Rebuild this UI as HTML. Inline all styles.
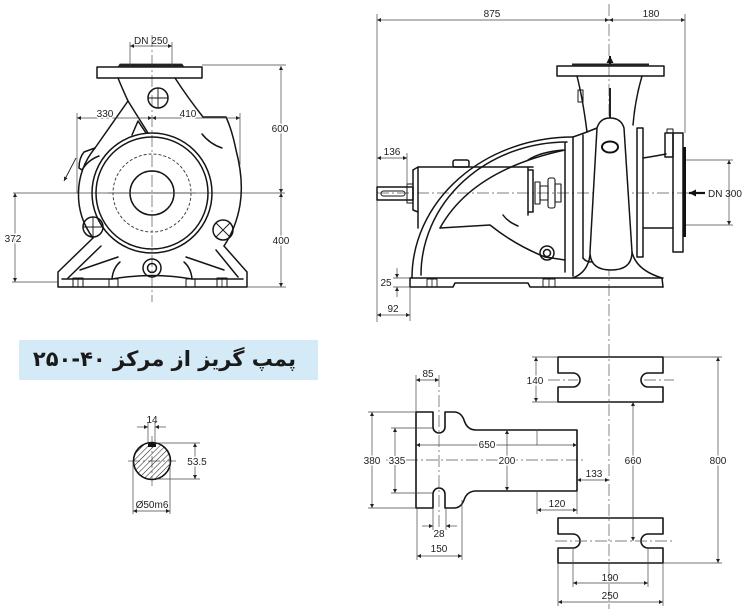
<!DOCTYPE html>
<html><head><meta charset="utf-8">
<style>
html,body{margin:0;padding:0;background:#fff;}
#wrap{position:relative;width:750px;height:609px;overflow:hidden;background:#fff;}
svg{position:absolute;left:0;top:0;}
.k{stroke:#151515;stroke-width:1.5;fill:none;stroke-linejoin:round;stroke-linecap:round;}
.kf{stroke:#151515;stroke-width:1.5;fill:#fff;stroke-linejoin:round;}
.d{stroke:#444;stroke-width:0.7;fill:none;}
.c{stroke:#555;stroke-width:0.7;fill:none;stroke-dasharray:12 3 2 3;}
.t{font-family:"Liberation Sans",Arial,sans-serif;font-size:10px;fill:#222;text-anchor:middle;}
.tw{font-family:"Liberation Sans",Arial,sans-serif;font-size:10px;fill:#222;text-anchor:middle;stroke:#fff;stroke-width:3px;paint-order:stroke;}
#banner{position:absolute;left:19px;top:340px;width:299px;height:40px;background:#d5eaf7;}
#btxt{position:absolute;left:19px;top:340px;width:277px;height:40px;line-height:38px;direction:rtl;text-align:right;font-family:"DejaVu Sans",sans-serif;font-weight:bold;font-size:21px;color:#1a1a1a;white-space:nowrap;}
</style></head>
<body><div id="wrap">
<div id="banner"></div>
<div id="btxt">پمپ گریز از مرکز ۴۰-۲۵۰</div>
<svg width="750" height="609" viewBox="0 0 750 609" xmlns="http://www.w3.org/2000/svg">
<defs>
<marker id="ar" viewBox="0 0 10 10" refX="10" refY="5" markerWidth="6" markerHeight="4" orient="auto-start-reverse" markerUnits="userSpaceOnUse"><path d="M0,0 L10,5 L0,10 z" fill="#222"/></marker>
<marker id="ab" viewBox="0 0 10 10" refX="10" refY="5" markerWidth="8" markerHeight="7" orient="auto-start-reverse" markerUnits="userSpaceOnUse"><path d="M0,0 L10,5 L0,10 z" fill="#111"/></marker>
<pattern id="hatch" width="4" height="4" patternUnits="userSpaceOnUse" patternTransform="rotate(45)"><line x1="0" y1="0" x2="0" y2="4" stroke="#222" stroke-width="1.1"/></pattern>
</defs>

<!-- ================= LEFT PUMP (front view) ================= -->
<line class="c" x1="152" y1="35" x2="152" y2="302"/>
<line class="d" x1="13" y1="193" x2="285" y2="193"/>
<rect class="k" x="97" y="67" width="105" height="11"/>
<path d="M118,67 L120,64 L182,64 L184,67 Z" fill="#222" stroke="#222" stroke-width="0.8"/>
<path class="k" d="M118,78 Q122,88 128,101 L95,148"/>
<path class="k" d="M128,101 Q138,117 148,133"/>
<path class="k" d="M132,135 L138,121 L146,133"/>
<path class="k" d="M95,148 L84,152 Q79,158 79,168 L82,170 Q88,160 99,156"/>
<path class="k" d="M175,78 Q188,98 203,117 L226,117 Q232,130 236,150 Q244,180 240,205 Q236,228 224,246"/>
<path class="k" d="M202,134 Q210,144 222,148"/>
<path class="k" d="M95,148 A73,73 0 0 0 93,238"/>
<circle class="k" cx="152" cy="193" r="60"/>
<circle class="k" cx="152" cy="193" r="56"/>
<circle cx="152" cy="193" r="39" fill="none" stroke="#333" stroke-width="0.9" stroke-dasharray="3 2"/>
<circle class="k" cx="152" cy="193" r="22"/>
<line class="d" x1="108" y1="193" x2="196" y2="193"/>
<circle class="k" cx="158" cy="98" r="10"/>
<line class="k" x1="148" y1="98" x2="168" y2="98" style="stroke-width:0.9"/>
<line class="k" x1="158" y1="88" x2="158" y2="108" style="stroke-width:0.9"/>
<circle class="k" cx="93" cy="227" r="10"/>
<line class="k" x1="83" y1="227" x2="103" y2="227" style="stroke-width:0.9"/>
<line class="k" x1="93" y1="217" x2="93" y2="237" style="stroke-width:0.9"/>
<circle class="k" cx="223" cy="230" r="10"/>
<line class="k" x1="216" y1="223" x2="230" y2="237" style="stroke-width:0.9"/>
<line class="k" x1="230" y1="223" x2="216" y2="237" style="stroke-width:0.9"/>
<circle class="k" cx="152" cy="268" r="9"/>
<circle class="k" cx="152" cy="268" r="4.5"/>
<path class="k" d="M93,238 L58,272 L58,287 L247,287 L247,272 L224,246"/>
<path class="k" d="M101,246 L68,278"/>
<path class="k" d="M216,250 L238,277"/>
<path class="k" d="M80,270 L118,257"/>
<path class="k" d="M224,270 L186,257"/>
<path class="k" d="M62,279 L112,279 Q152,272 192,279 L243,279"/>
<path class="k" d="M120,262 Q113,268 112,279"/>
<path class="k" d="M184,262 Q191,268 192,279"/>
<rect class="k" x="73" y="278" width="10" height="9" style="stroke-width:1"/>
<line class="k" x1="78" y1="278" x2="78" y2="287" style="stroke-width:0.8"/>
<rect class="k" x="109" y="279" width="9" height="8" style="stroke-width:1"/>
<rect class="k" x="186" y="279" width="9" height="8" style="stroke-width:1"/>
<rect class="k" x="217" y="278" width="10" height="9" style="stroke-width:1"/>
<line class="k" x1="222" y1="278" x2="222" y2="287" style="stroke-width:0.8"/>
<path class="d" d="M76,158 L64,181" marker-end="url(#ar)" style="stroke:#222;stroke-width:0.9"/>
<line class="d" x1="130" y1="42" x2="130" y2="66"/>
<line class="d" x1="172" y1="42" x2="172" y2="66"/>
<line class="d" x1="130" y1="46" x2="172" y2="46" marker-start="url(#ar)" marker-end="url(#ar)"/>
<text class="t" x="151" y="44">DN 250</text>
<line class="d" x1="77" y1="113" x2="77" y2="193"/>
<line class="d" x1="240" y1="113" x2="240" y2="165"/>
<line class="d" x1="77" y1="118" x2="152" y2="118" marker-start="url(#ar)" marker-end="url(#ar)"/>
<line class="d" x1="152" y1="118" x2="240" y2="118" marker-start="url(#ar)" marker-end="url(#ar)"/>
<text class="tw" x="105" y="117">330</text>
<text class="tw" x="188" y="117">410</text>
<line class="d" x1="202" y1="65" x2="286" y2="65"/>
<line class="d" x1="247" y1="287" x2="286" y2="287"/>
<line class="d" x1="281" y1="66" x2="281" y2="193" marker-start="url(#ar)" marker-end="url(#ar)"/>
<line class="d" x1="281" y1="193" x2="281" y2="287" marker-start="url(#ar)" marker-end="url(#ar)"/>
<text class="tw" x="280" y="132">600</text>
<text class="tw" x="281" y="244">400</text>
<line class="d" x1="12" y1="282" x2="58" y2="282"/>
<line class="d" x1="15" y1="193" x2="15" y2="282" marker-start="url(#ar)" marker-end="url(#ar)"/>
<text class="tw" x="13" y="242">372</text>

<!-- ================= RIGHT PUMP (side view) ================= -->
<line class="c" x1="609" y1="4" x2="609" y2="609"/>
<line class="c" x1="377" y1="193" x2="692" y2="193"/>
<line class="d" x1="377" y1="14" x2="377" y2="322"/>
<line class="d" x1="685" y1="14" x2="685" y2="133"/>
<line class="d" x1="377" y1="20" x2="609" y2="20" marker-start="url(#ar)" marker-end="url(#ar)"/>
<line class="d" x1="609" y1="20" x2="685" y2="20" marker-start="url(#ar)" marker-end="url(#ar)"/>
<text class="t" x="492" y="17">875</text>
<text class="t" x="651" y="17">180</text>
<rect class="k" x="557" y="66" width="107" height="10"/>
<rect x="572" y="63.5" width="77" height="2.5" fill="#222"/>
<line x1="610" y1="64" x2="610" y2="56" stroke="#111" stroke-width="2" marker-end="url(#ab)"/>
<path class="k" d="M577,76 Q583,100 587,132"/>
<path class="k" d="M642,76 Q635,100 633,125"/>
<rect class="k" x="578" y="90" width="5" height="12" style="stroke-width:1"/>
<line x1="610" y1="88" x2="610" y2="120" stroke="#222" stroke-width="2"/>
<rect x="604" y="118" width="12" height="4" fill="#222"/>
<path class="k" d="M573,137 Q585,133 597,128"/>
<line class="k" x1="573" y1="137" x2="573" y2="276"/>
<line class="k" x1="565" y1="143" x2="565" y2="272"/>
<line class="k" x1="583" y1="135" x2="583" y2="258"/>
<path class="k" d="M583,258 Q586,262 591,262"/>
<path class="kf" d="M597,128 Q600,118 610,118 Q621,118 624,128 L632,252 Q632,270 611,270 Q590,270 590,252 Z"/>
<ellipse cx="610" cy="147" rx="8" ry="5.5" fill="none" stroke="#111" stroke-width="2"/>
<rect class="k" x="637" y="128" width="6" height="129"/>
<path class="k" d="M643,158 Q656,156 666,154"/>
<line class="k" x1="643" y1="228" x2="673" y2="228"/>
<rect class="k" x="673" y="133" width="10" height="119"/>
<rect class="k" x="665" y="133" width="8" height="24"/>
<rect class="k" x="667" y="129" width="6" height="4" style="stroke-width:1"/>
<rect x="683" y="147" width="3" height="90" fill="#111"/>
<line x1="705" y1="193" x2="689" y2="193" stroke="#111" stroke-width="2.2" marker-end="url(#ab)"/>
<text class="t" x="708" y="197" style="text-anchor:start">DN 300</text>
<line class="d" x1="686" y1="160" x2="733" y2="160"/>
<line class="d" x1="686" y1="225" x2="733" y2="225"/>
<line class="d" x1="729" y1="160" x2="729" y2="225" marker-start="url(#ar)" marker-end="url(#ar)"/>
<path class="k" d="M590,255 Q588,272 573,278"/>
<path class="k" d="M632,252 Q636,270 662,278 L663,287"/>
<path class="k" d="M410,278 L410,287 L453,287 L455,283 L528,283 L530,287 L663,287"/>
<line class="k" x1="410" y1="278" x2="663" y2="278"/>
<rect class="k" x="427" y="279" width="10" height="8" style="stroke-width:0.9"/>
<line class="k" x1="432" y1="279" x2="432" y2="287" style="stroke-width:0.8"/>
<rect class="k" x="543" y="279" width="12" height="8" style="stroke-width:0.9"/>
<line class="k" x1="549" y1="279" x2="549" y2="287" style="stroke-width:0.8"/>
<rect class="k" x="377" y="187" width="36" height="13"/>
<rect class="k" x="381" y="191" width="24" height="5" rx="2.5" style="stroke-width:1"/>
<rect class="k" x="407" y="184" width="6" height="19" style="stroke-width:1"/>
<path class="k" d="M413,170 L418,167 L533,167"/>
<path class="k" d="M413,170 L413,210 L418,212 L418,228"/>
<line class="k" x1="418" y1="167" x2="418" y2="212"/>
<rect class="k" x="453" y="160" width="16" height="7" rx="2"/>
<path class="k" d="M528,170 L533,170 L533,212 L528,212"/>
<line class="k" x1="528" y1="167" x2="528" y2="215"/>
<rect class="k" x="535" y="182" width="5" height="22" style="stroke-width:1.1"/>
<rect class="k" x="540" y="186" width="8" height="14" style="stroke-width:1.1"/>
<rect class="k" x="548" y="178" width="7" height="30" rx="2" style="stroke-width:1.1"/>
<rect class="k" x="555" y="184" width="6" height="18" style="stroke-width:1.1"/>
<path class="k" d="M412,278 A161,141 0 0 1 573,137"/>
<path class="k" d="M421,275 A146,133 0 0 1 567,142"/>
<path class="k" d="M440,228 Q472,170 565,150"/>
<path class="k" d="M528,160 Q540,152 563,150"/>
<path class="k" d="M440,228 L490,225 Q515,245 545,257 L565,260"/>
<path class="k" d="M503,215 Q508,222 518,226"/>
<circle class="k" cx="547" cy="253" r="7"/>
<circle class="k" cx="547" cy="253" r="3.5"/>
<line class="d" x1="407" y1="153" x2="407" y2="186"/>
<line class="d" x1="377" y1="158" x2="407" y2="158" marker-start="url(#ar)" marker-end="url(#ar)"/>
<text class="t" x="392" y="155">136</text>
<line class="d" x1="393" y1="278" x2="410" y2="278"/>
<line class="d" x1="393" y1="287" x2="410" y2="287"/>
<line class="d" x1="397" y1="268" x2="397" y2="278" marker-end="url(#ar)"/>
<line class="d" x1="397" y1="297" x2="397" y2="287" marker-end="url(#ar)"/>
<text class="t" x="386" y="286">25</text>
<line class="d" x1="410" y1="287" x2="410" y2="321"/>
<line class="d" x1="377" y1="315" x2="410" y2="315" marker-start="url(#ar)" marker-end="url(#ar)"/>
<text class="t" x="393" y="312">92</text>

<!-- ================= SHAFT SECTION ================= -->
<line class="c" x1="128" y1="461" x2="176" y2="461"/>
<line class="c" x1="152" y1="436" x2="152" y2="486"/>
<circle cx="152" cy="461" r="18.5" fill="url(#hatch)" stroke="#111" stroke-width="1.6"/>
<path d="M148,443 L148,447 L156,447 L156,443 Z" fill="#111"/>
<line class="d" x1="148" y1="422" x2="148" y2="444"/>
<line class="d" x1="155" y1="422" x2="155" y2="444"/>
<line class="d" x1="137" y1="427" x2="148" y2="427" marker-end="url(#ar)"/>
<line class="d" x1="166" y1="427" x2="155" y2="427" marker-end="url(#ar)"/>
<text class="t" x="152" y="423">14</text>
<line class="d" x1="156" y1="443" x2="200" y2="443"/>
<line class="d" x1="156" y1="479" x2="200" y2="479"/>
<line class="d" x1="195" y1="443" x2="195" y2="479" marker-start="url(#ar)" marker-end="url(#ar)"/>
<text class="tw" x="197" y="465">53.5</text>
<line class="d" x1="133" y1="461" x2="133" y2="514"/>
<line class="d" x1="170" y1="461" x2="170" y2="514"/>
<line class="d" x1="133" y1="511" x2="170" y2="511" marker-start="url(#ar)" marker-end="url(#ar)"/>
<text class="t" x="152" y="508">Ø50m6</text>

<!-- ================= BASE PLATE (long) ================= -->
<line class="c" x1="386" y1="460" x2="583" y2="460"/>
<path class="k" style="stroke-width:1.6" d="M416,412 L433,412 L433,427 A6,6 0 0 0 445,427 L445,412 L454,412 Q461,412 464,420 Q467,430 476,430 L577,430 L577,491 L476,491 Q467,491 464,500 Q461,508 454,508 L445,508 L445,494 A6,6 0 0 0 433,494 L433,508 L416,508 Z"/>
<line class="c" x1="439" y1="375" x2="439" y2="530"/>
<line class="d" x1="537" y1="430" x2="537" y2="445"/>
<line class="d" x1="537" y1="491" x2="537" y2="514"/>
<line class="d" x1="577" y1="491" x2="577" y2="514"/>
<line class="d" x1="416" y1="375" x2="416" y2="412"/>
<line class="d" x1="416" y1="445" x2="577" y2="445" marker-start="url(#ar)" marker-end="url(#ar)"/>
<text class="tw" x="487" y="448">650</text>
<line class="d" x1="507" y1="430" x2="507" y2="491" marker-start="url(#ar)" marker-end="url(#ar)"/>
<text class="tw" x="507" y="464">200</text>
<line class="d" x1="416" y1="380" x2="439" y2="380" marker-start="url(#ar)" marker-end="url(#ar)"/>
<text class="t" x="428" y="377">85</text>
<line class="d" x1="368" y1="412" x2="416" y2="412"/>
<line class="d" x1="368" y1="508" x2="416" y2="508"/>
<line class="d" x1="372" y1="412" x2="372" y2="508" marker-start="url(#ar)" marker-end="url(#ar)"/>
<text class="tw" x="372" y="464">380</text>
<line class="d" x1="391" y1="428" x2="433" y2="428"/>
<line class="d" x1="391" y1="493" x2="433" y2="493"/>
<line class="d" x1="395" y1="428" x2="395" y2="493" marker-start="url(#ar)" marker-end="url(#ar)"/>
<text class="tw" x="397" y="464">335</text>
<line class="d" x1="417" y1="508" x2="417" y2="560"/>
<line class="d" x1="433" y1="508" x2="433" y2="530"/>
<line class="d" x1="446" y1="508" x2="446" y2="530"/>
<line class="d" x1="462" y1="500" x2="462" y2="560"/>
<line class="d" x1="422" y1="526" x2="433" y2="526" marker-end="url(#ar)"/>
<line class="d" x1="457" y1="526" x2="446" y2="526" marker-end="url(#ar)"/>
<text class="t" x="439" y="537">28</text>
<line class="d" x1="417" y1="556" x2="462" y2="556" marker-start="url(#ar)" marker-end="url(#ar)"/>
<text class="t" x="439" y="552">150</text>
<line class="d" x1="537" y1="510" x2="577" y2="510" marker-start="url(#ar)" marker-end="url(#ar)"/>
<text class="t" x="557" y="507">120</text>
<line class="d" x1="577" y1="480" x2="609" y2="480" marker-start="url(#ar)" marker-end="url(#ar)"/>
<text class="t" x="594" y="477">133</text>

<!-- ================= SUPPORT BLOCKS ================= -->
<path class="k" style="stroke-width:1.6" d="M558,357 L663,357 L663,373 L648,373 A7,7 0 0 0 648,387 L663,387 L663,402 L558,402 L558,387 L573,387 A7,7 0 0 0 573,373 L558,373 Z"/>
<path class="k" style="stroke-width:1.6" d="M558,518 L663,518 L663,534 L648,534 A7,7 0 0 0 648,548 L663,548 L663,563 L558,563 L558,548 L573,548 A7,7 0 0 0 573,534 L558,534 Z"/>
<line class="c" x1="548" y1="380" x2="578" y2="380"/>
<line class="c" x1="644" y1="380" x2="674" y2="380"/>
<line class="c" x1="555" y1="541" x2="674" y2="541"/>
<line class="d" x1="532" y1="357" x2="558" y2="357"/>
<line class="d" x1="532" y1="402" x2="558" y2="402"/>
<line class="d" x1="536" y1="357" x2="536" y2="402" marker-start="url(#ar)" marker-end="url(#ar)"/>
<text class="tw" x="535" y="384">140</text>
<line class="d" x1="633" y1="402" x2="633" y2="541" marker-start="url(#ar)" marker-end="url(#ar)"/>
<text class="tw" x="633" y="464">660</text>
<line class="d" x1="663" y1="357" x2="722" y2="357"/>
<line class="d" x1="663" y1="563" x2="722" y2="563"/>
<line class="d" x1="718" y1="357" x2="718" y2="563" marker-start="url(#ar)" marker-end="url(#ar)"/>
<text class="tw" x="718" y="464">800</text>
<line class="d" x1="573" y1="548" x2="573" y2="587"/>
<line class="d" x1="648" y1="548" x2="648" y2="587"/>
<line class="d" x1="573" y1="583" x2="648" y2="583" marker-start="url(#ar)" marker-end="url(#ar)"/>
<text class="t" x="610" y="581">190</text>
<line class="d" x1="558" y1="563" x2="558" y2="606"/>
<line class="d" x1="663" y1="563" x2="663" y2="606"/>
<line class="d" x1="558" y1="602" x2="663" y2="602" marker-start="url(#ar)" marker-end="url(#ar)"/>
<text class="t" x="610" y="599">250</text>
</svg>
</div></body></html>
